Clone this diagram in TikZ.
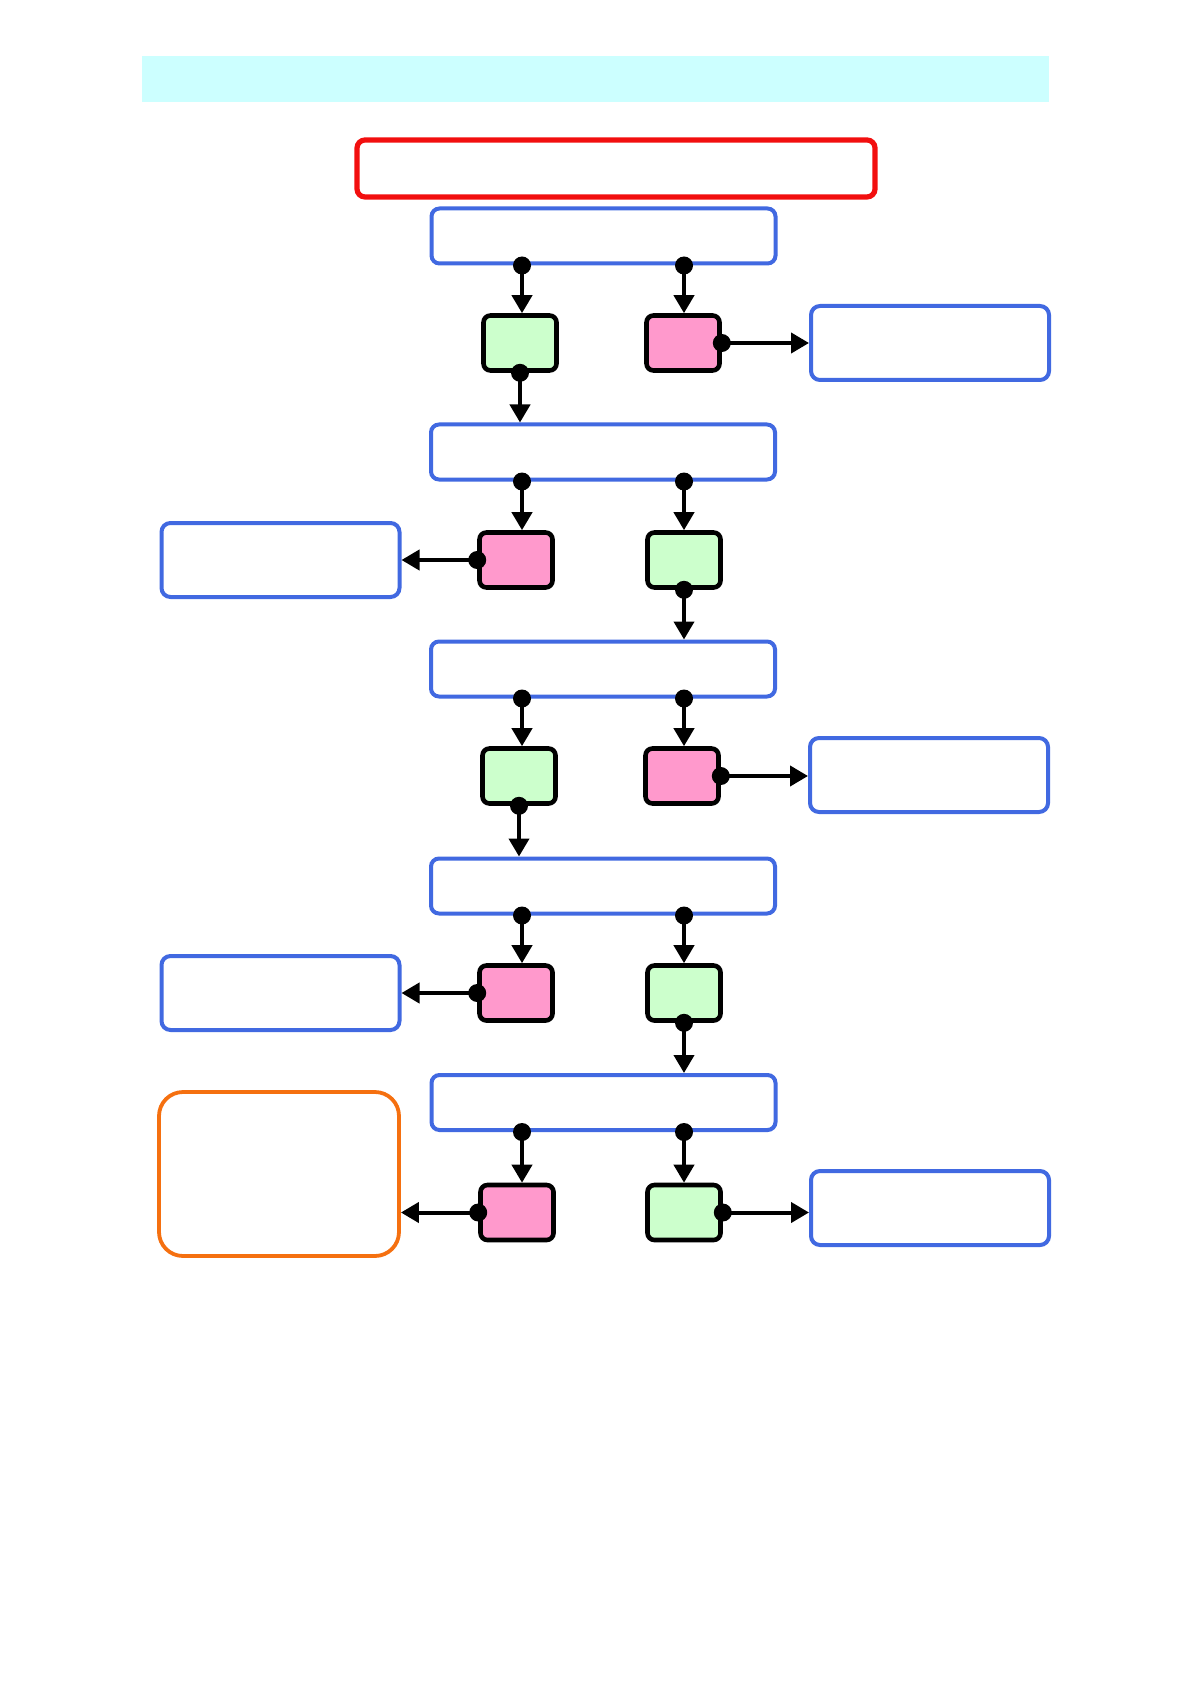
\documentclass[tikz,border=0pt]{standalone}
\usetikzlibrary{arrows.meta}
\definecolor{bandcyan}{HTML}{CCFFFF}
\definecolor{topred}{HTML}{F20F0F}
\definecolor{boxblue}{HTML}{4169E1}
\definecolor{okgreen}{HTML}{CCFFCC}
\definecolor{nopink}{HTML}{FF99CC}
\definecolor{endorange}{HTML}{F57010}
\tikzset{
  bluebox/.style={draw=boxblue, line width=2pt, rounded corners=4pt, fill=white, minimum width=172pt, minimum height=27.5pt, inner sep=0pt},
  sidebox/.style={draw=boxblue, line width=2pt, rounded corners=4.5pt, fill=white, minimum width=119pt, minimum height=37pt, inner sep=0pt},
  yesbox/.style={draw=black, line width=2.3pt, rounded corners=3.5pt, fill=okgreen, minimum width=36.5pt, minimum height=27.5pt, inner sep=0pt},
  nobox/.style={draw=black, line width=2.3pt, rounded corners=3.5pt, fill=nopink, minimum width=36.5pt, minimum height=27.5pt, inner sep=0pt},
  conn/.style={line width=2pt, -{Triangle[length=9pt,width=10pt]}},
  dot/.style={fill=black}
}
\begin{document}
\begin{tikzpicture}[x=0.5pt,y=-0.5pt]
\useasboundingbox (0,0) rectangle (1190,1684);
% title band and start box
\node[fill=bandcyan, minimum width=453.5pt, minimum height=23pt, inner sep=0pt] (band) at (595.5,79) {};
\node[draw=topred, line width=2.6pt, rounded corners=4pt, fill=white, minimum width=259pt, minimum height=28.5pt, inner sep=0pt] (start) at (616,168.5) {};
% main column
\node[bluebox] (b1) at (603.5,236) {};
\node[bluebox] (b2) at (603,452) {};
\node[bluebox] (b3) at (603,669) {};
\node[bluebox] (b4) at (603,886) {};
\node[bluebox] (b5) at (603.5,1102.5) {};
% x positions of the two exits of each blue box
\coordinate (lx) at (522,0);
\coordinate (rx) at (684,0);
% small decision boxes
\node[yesbox] (g1) at (520,343) {};
\node[nobox]  (p1) at (683,343) {};
\node[nobox]  (p2) at (516,560) {};
\node[yesbox] (g2) at (684,560) {};
\node[yesbox] (g3) at (519,776) {};
\node[nobox]  (p3) at (682,776) {};
\node[nobox]  (p4) at (516,993) {};
\node[yesbox] (g4) at (684,993) {};
\node[nobox]  (p5) at (517,1212.5) {};
\node[yesbox] (g5) at (684,1212.5) {};
% side boxes
\node[sidebox] (r1) at (930,343) {};
\node[sidebox] (l2) at (280.5,560) {};
\node[sidebox] (r3) at (929,775) {};
\node[sidebox] (l4) at (280.5,993) {};
\node[sidebox] (r5) at (930,1208) {};
\node[draw=endorange, line width=1.9pt, rounded corners=12pt, fill=white, minimum width=120pt, minimum height=82pt, inner sep=0pt] (fin) at (279,1174) {};
% connectors: blue box -> decision boxes
\foreach \b/\l/\r in {b1/g1/p1, b2/p2/g2, b3/g3/p3, b4/p4/g4, b5/p5/g5} {
  \draw[conn] (\b.south -| lx) -- (lx |- \l.north);
  \draw[conn] (\b.south -| rx) -- (rx |- \r.north);
  \fill[dot] (\b.south -| lx) circle (9);
  \fill[dot] (\b.south -| rx) circle (9);
}
% continue downwards
\foreach \g/\b in {g1/b2, g2/b3, g3/b4, g4/b5} {
  \draw[conn] (\g.south) -- (\g.south |- \b.north);
  \fill[dot] (\g.south) circle (9);
}
% sideways exits
\draw[conn] (p1.east) -- (p1.east -| r1.west);
\fill[dot] (p1.east) circle (9);
\draw[conn] (p2.west) -- (p2.west -| l2.east);
\fill[dot] (p2.west) circle (9);
\draw[conn] (p3.east) -- (p3.east -| r3.west);
\fill[dot] (p3.east) circle (9);
\draw[conn] (p4.west) -- (p4.west -| l4.east);
\fill[dot] (p4.west) circle (9);
\draw[conn] (p5.west) -- (p5.west -| fin.east);
\fill[dot] (p5.west) circle (9);
\draw[conn] (g5.east) -- (g5.east -| r5.west);
\fill[dot] (g5.east) circle (9);
\end{tikzpicture}
\end{document}
